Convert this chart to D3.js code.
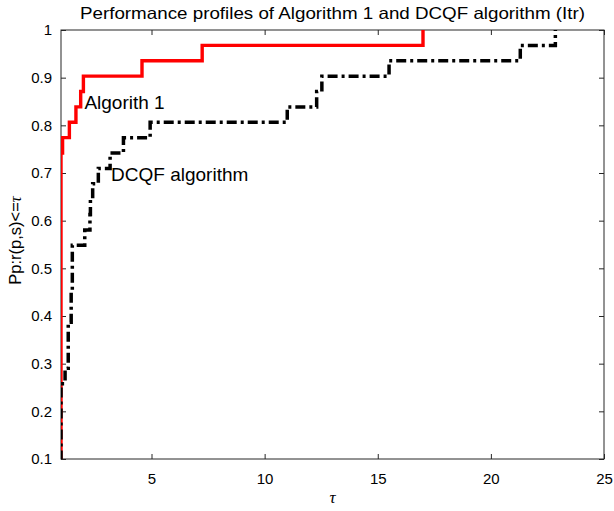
<!DOCTYPE html>
<html>
<head>
<meta charset="utf-8">
<script src="https://cdn.jsdelivr.net/npm/d3@7"></script>
<style>
	body { margin: 0; background: #fff; }
	.tick text { font-family: "Liberation Sans", Arial, sans-serif; font-size: 15px; fill: #000; }
	.axis path, .axis line { stroke: #262626; }
</style>
</head>
<body>
<div id="chart"></div>
<script>
// number of problems, profiles are counts / nProblems
var nProblems = 31;

// Algorithm 1: tau where the profile steps, and the count reached there
var algTau   = [1, 1, 1.07, 1.37, 1.66, 1.87, 1.99, 4.58, 7.24, 17.0];
var algCount = [3, 23, 24, 25, 26, 27, 28, 29, 30, 31];

// DCQF algorithm
var dcqfTau   = [1, 1, 1.18, 1.32, 1.45, 1.5, 2.05, 2.28, 2.3, 2.4, 2.65, 3.17, 3.76, 4.94, 11.0, 12.3, 12.53, 15.5, 21.3, 22.85];
var dcqfCount = [3, 8, 9, 12, 14, 17, 18, 19, 20, 21, 22, 23, 24, 25, 26, 27, 28, 29, 30, 31];

var xTicks = [5, 10, 15, 20, 25];
var yTicks = [0.1, 0.2, 0.3, 0.4, 0.5, 0.6, 0.7, 0.8, 0.9, 1];

var W = 614, H = 511;
var margin = { left: 61, top: 30, right: 10, bottom: 52 };
var w = W - margin.left - margin.right;
var h = H - margin.top - margin.bottom;

var svg = d3.select("#chart").append("svg")
	.attr("width", W)
	.attr("height", H);

var g = svg.append("g")
	.attr("transform", "translate(" + margin.left + "," + margin.top + ")");

var x = d3.scaleLinear().domain([1, 25]).range([0, w]);
var y = d3.scaleLinear().domain([0.1, 1]).range([h, 0]);

svg.append("defs").append("clipPath").attr("id", "clip")
	.append("rect").attr("x", 0).attr("y", 0).attr("width", w).attr("height", h);

// axes, MATLAB style: ticks inside, box on
g.append("g").attr("class", "axis")
	.attr("transform", "translate(0," + h + ")")
	.call(d3.axisBottom(x).tickValues(xTicks).tickSizeInner(-5).tickSizeOuter(0).tickPadding(14));

g.append("g").attr("class", "axis")
	.call(d3.axisTop(x).tickValues(xTicks).tickSizeInner(-5).tickSizeOuter(0).tickFormat(""));

g.append("g").attr("class", "axis")
	.call(d3.axisLeft(y).tickValues(yTicks).tickSizeInner(-5).tickSizeOuter(0).tickPadding(9)
		.tickFormat(function(d) { return d === 1 ? "1" : d3.format(".1f")(d); }));

g.append("g").attr("class", "axis")
	.attr("transform", "translate(" + w + ",0)")
	.call(d3.axisRight(y).tickValues(yTicks).tickSizeInner(-5).tickSizeOuter(0).tickFormat(""));

g.selectAll(".axis .domain").remove();

g.append("rect")
	.attr("x", 0).attr("y", 0).attr("width", w).attr("height", h)
	.attr("fill", "none").attr("stroke", "#262626").attr("stroke-width", 1);

// profiles
var line = d3.line()
	.x(function(d) { return x(d[0]); })
	.y(function(d) { return y(d[1]); })
	.curve(d3.curveStepAfter);

function toPoints(tau, count) {
	return tau.map(function(t, i) { return [t, count[i] / nProblems]; });
}

var lines = g.append("g").attr("clip-path", "url(#clip)");

lines.append("path")
	.attr("d", line(toPoints(algTau, algCount)))
	.attr("fill", "none")
	.attr("stroke", "#ff0000")
	.attr("stroke-width", 3.4);

lines.append("path")
	.attr("d", line(toPoints(dcqfTau, dcqfCount)))
	.attr("fill", "none")
	.attr("stroke", "#000")
	.attr("stroke-width", 3.5)
	.attr("stroke-dasharray", "10,4,3,4");

// labels on the curves
g.append("text")
	.attr("x", x(1.99) + 1).attr("y", y(0.834))
	.attr("font-family", "Liberation Sans, Arial, sans-serif")
	.attr("font-size", 19)
	.text("Algorith 1");

g.append("text")
	.attr("x", x(3.17) + 1).attr("y", y(0.684))
	.attr("font-family", "Liberation Sans, Arial, sans-serif")
	.attr("font-size", 19)
	.text("DCQF algorithm");

// title
svg.append("text")
	.attr("x", margin.left + w / 2).attr("y", 19)
	.attr("text-anchor", "middle")
	.attr("font-family", "Liberation Sans, Arial, sans-serif")
	.attr("font-size", 16.5)
	.attr("textLength", 505)
	.attr("lengthAdjust", "spacingAndGlyphs")
	.text("Performance profiles of Algorithm 1 and DCQF algorithm (Itr)");

// axis titles
svg.append("text")
	.attr("x", margin.left + w / 2).attr("y", 503)
	.attr("text-anchor", "middle")
	.attr("font-family", "Liberation Serif, serif")
	.attr("font-style", "italic")
	.attr("font-size", 17)
	.text("τ");

var yl = svg.append("text")
	.attr("transform", "translate(21," + (margin.top + h / 2 - 4) + ") rotate(-90)")
	.attr("text-anchor", "middle")
	.attr("font-family", "Liberation Sans, Arial, sans-serif")
	.attr("font-size", 16.5);
yl.append("tspan").text("Pp:r(p,s)<=");
yl.append("tspan")
	.attr("font-family", "Liberation Serif, serif")
	.attr("font-style", "italic")
	.text("τ");
</script>
</body>
</html>
